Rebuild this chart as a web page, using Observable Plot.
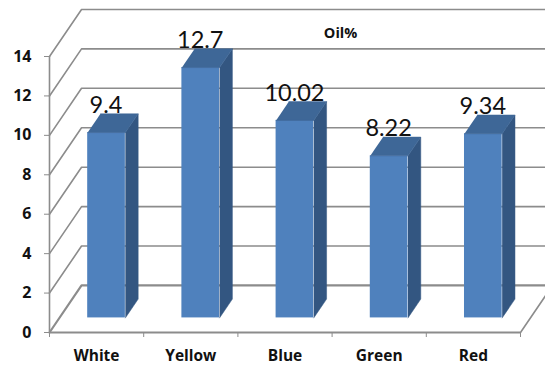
<!DOCTYPE html>
<html>
<head>
<meta charset="utf-8">
<script src="https://cdn.jsdelivr.net/npm/d3@7"></script>
<script src="https://cdn.jsdelivr.net/npm/@observablehq/plot@0.6"></script>
<style>
  html, body { margin: 0; padding: 0; background: #fff; overflow: hidden; }
  svg { display: block; }
</style>
</head>
<body>
<div id="chart"></div>
<script>
// Oil content per colour class
const categories = ["White", "Yellow", "Blue", "Green", "Red"];
const oilPercent = [9.4, 12.7, 10.02, 8.22, 9.34];
const valueLabels = ["9.4", "12.7", "10.02", "8.22", "9.34"];
const yTicks = [0, 2, 4, 6, 8, 10, 12, 14];
const chartTitle = "Oil%";

// Oblique projection: a depth of 1 is the back wall, expressed in scale units
const depthX = 0.34;
const depthY = 2.386;
const px = (i, d) => i + d * depthX;
const py = (v, d) => v + d * depthY;

// Bars sit between these depths and fill the middle of each category slot
const barFront = 0.31;
const barBack = 0.71;
const barLeft = 0.3;
const barRight = 0.7;

const bars = categories.map((name, i) => ({name, i, value: oilPercent[i], label: valueLabels[i]}));
const slots = categories.length;

// Left wall diagonals and back wall rules for every tick
const walls = yTicks.flatMap((v) => [
  {id: v, x: px(0, 0), y: py(v, 0)},
  {id: v, x: px(0, 1), y: py(v, 1)},
  {id: v, x: px(slots, 1), y: py(v, 1)}
]);
const floorEdge = [
  {x: px(slots, 0), y: py(0, 0)},
  {x: px(slots, 1), y: py(0, 1)}
];

// Polygon for a bar's side and top faces
const sideFace = bars.flatMap((b) => [
  [barRight, 0, barFront], [barRight, 0, barBack], [barRight, b.value, barBack], [barRight, b.value, barFront]
].map(([u, v, d]) => ({id: b.name, x: px(b.i + u, d), y: py(v, d)})));
const topFace = bars.flatMap((b) => [
  [barLeft, barFront], [barRight, barFront], [barRight, barBack], [barLeft, barBack]
].map(([u, d]) => ({id: b.name, x: px(b.i + u, d), y: py(b.value, d)})));

const gridColor = "#8c8c8c";
const labelFont = "'Open Sans', sans-serif";
const valueFont = "Lato, sans-serif";

const chart = Plot.plot({
  width: 545,
  height: 365,
  marginLeft: 49,
  marginRight: 25,
  marginTop: 56,
  marginBottom: 33,
  style: {background: "#fff", fontFamily: labelFont},
  x: {domain: [0, slots]},
  y: {domain: [0, 14]},
  marks: [
    Plot.line(walls, {x: "x", y: "y", z: "id", stroke: gridColor, strokeWidth: (d) => d.id === 0 ? 2.2 : 1.6, curve: "linear"}),
    Plot.line(floorEdge, {x: "x", y: "y", stroke: gridColor, strokeWidth: 1.6}),

    Plot.ruleX([0], {y1: 0, y2: 14, stroke: gridColor, strokeWidth: 1.6}),
    Plot.ruleY([0], {x1: 0, x2: slots, stroke: gridColor, strokeWidth: 1.8}),

    Plot.axisY({
      ticks: yTicks, tickSize: 5, tickPadding: 13, stroke: gridColor, label: null,
      fill: "#111", fontSize: 16, fontWeight: 700, fontFamily: labelFont
    }),
    Plot.axisX({
      ticks: d3.range(slots + 1), tickSize: 5, tickFormat: () => "", stroke: gridColor, label: null
    }),
    Plot.axisX({
      ticks: categories.map((_, i) => i + 0.5), tickSize: 0, tickPadding: 17,
      tickFormat: (t) => categories[Math.floor(t)], label: null,
      fill: "#111", fontSize: 15.5, fontWeight: 700, fontFamily: labelFont
    }),

    Plot.rect(bars, {
      x1: (d) => px(d.i + barLeft, barFront),
      x2: (d) => px(d.i + barRight, barFront),
      y1: () => py(0, barFront),
      y2: (d) => py(d.value, barFront),
      fill: "#4f81bd"
    }),
    Plot.line(sideFace, {x: "x", y: "y", z: "id", fill: "#335681", stroke: "#335681", strokeWidth: 0.5}),
    Plot.line(topFace, {x: "x", y: "y", z: "id", fill: "#3e6797", stroke: "#3e6797", strokeWidth: 0.5}),

    Plot.text(bars, {
      x: (d) => px(d.i + 0.5, barFront),
      y: (d) => py(d.value, barBack),
      text: "label",
      lineAnchor: "bottom",
      dx: -0.5,
      dy: -1,
      fontSize: 23.5,
      fontFamily: valueFont,
      fill: "#111"
    }),
    Plot.text([chartTitle], {
      x: () => 3.09,
      y: () => 15.15,
      text: (d) => d,
      fontSize: 14.5,
      fontWeight: 700,
      fontFamily: labelFont,
      fill: "#111"
    })
  ]
});

document.getElementById("chart").append(chart);
</script>
</body>
</html>
